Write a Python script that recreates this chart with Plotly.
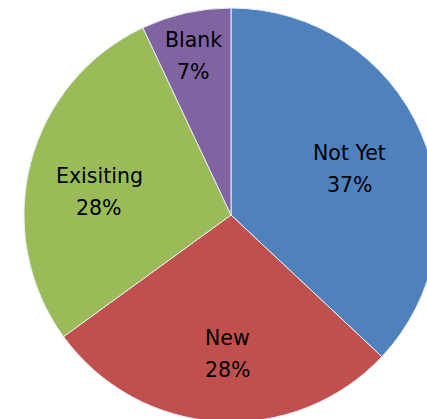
import math
import plotly.graph_objects as go

labels = ["Not Yet", "New", "Exisiting", "Blank"]
values = [37, 28, 28, 7]
colors = ["#4F81BD", "#C0504D", "#9BBB59", "#8064A2"]
# data-label placement style: radius fraction and angular nudge (degrees)
label_radius = [0.616, 0.672, 0.647, 0.791]
label_nudge = [2.3, -2.2, -4.3, -0.5]

fig = go.Figure(go.Pie(
    labels=labels,
    values=values,
    sort=False,
    direction="clockwise",
    rotation=0,
    marker=dict(colors=colors, line=dict(color="#E8EEF6", width=1)),
    textinfo="none",
    showlegend=False,
    hoverinfo="skip",
))

total = sum(values)
cum = 0
annotations = []
font = dict(family="DejaVu Sans", size=20.5, color="black")
for lab, val, f, nd in zip(labels, values, label_radius, label_nudge):
    mid = (cum + val / 2) / total * 2 * math.pi + math.radians(nd)
    cum += val
    x = 0.5 + f * 0.5 * math.sin(mid)
    y = 0.5 + f * 0.5 * math.cos(mid)
    pct = f"{round(val / total * 100)}%"
    for txt, shift in ((lab, 16), (pct, -16)):
        annotations.append(dict(x=x, y=y, xref="paper", yref="paper", text=txt,
                                xanchor="center", yanchor="middle",
                                showarrow=False, font=font, yshift=shift))

fig.update_layout(
    width=438,
    height=422,
    margin=dict(l=24, r=0, t=8, b=0),
    paper_bgcolor="white",
    plot_bgcolor="white",
    annotations=annotations,
)

fig.write_html("out.html")
